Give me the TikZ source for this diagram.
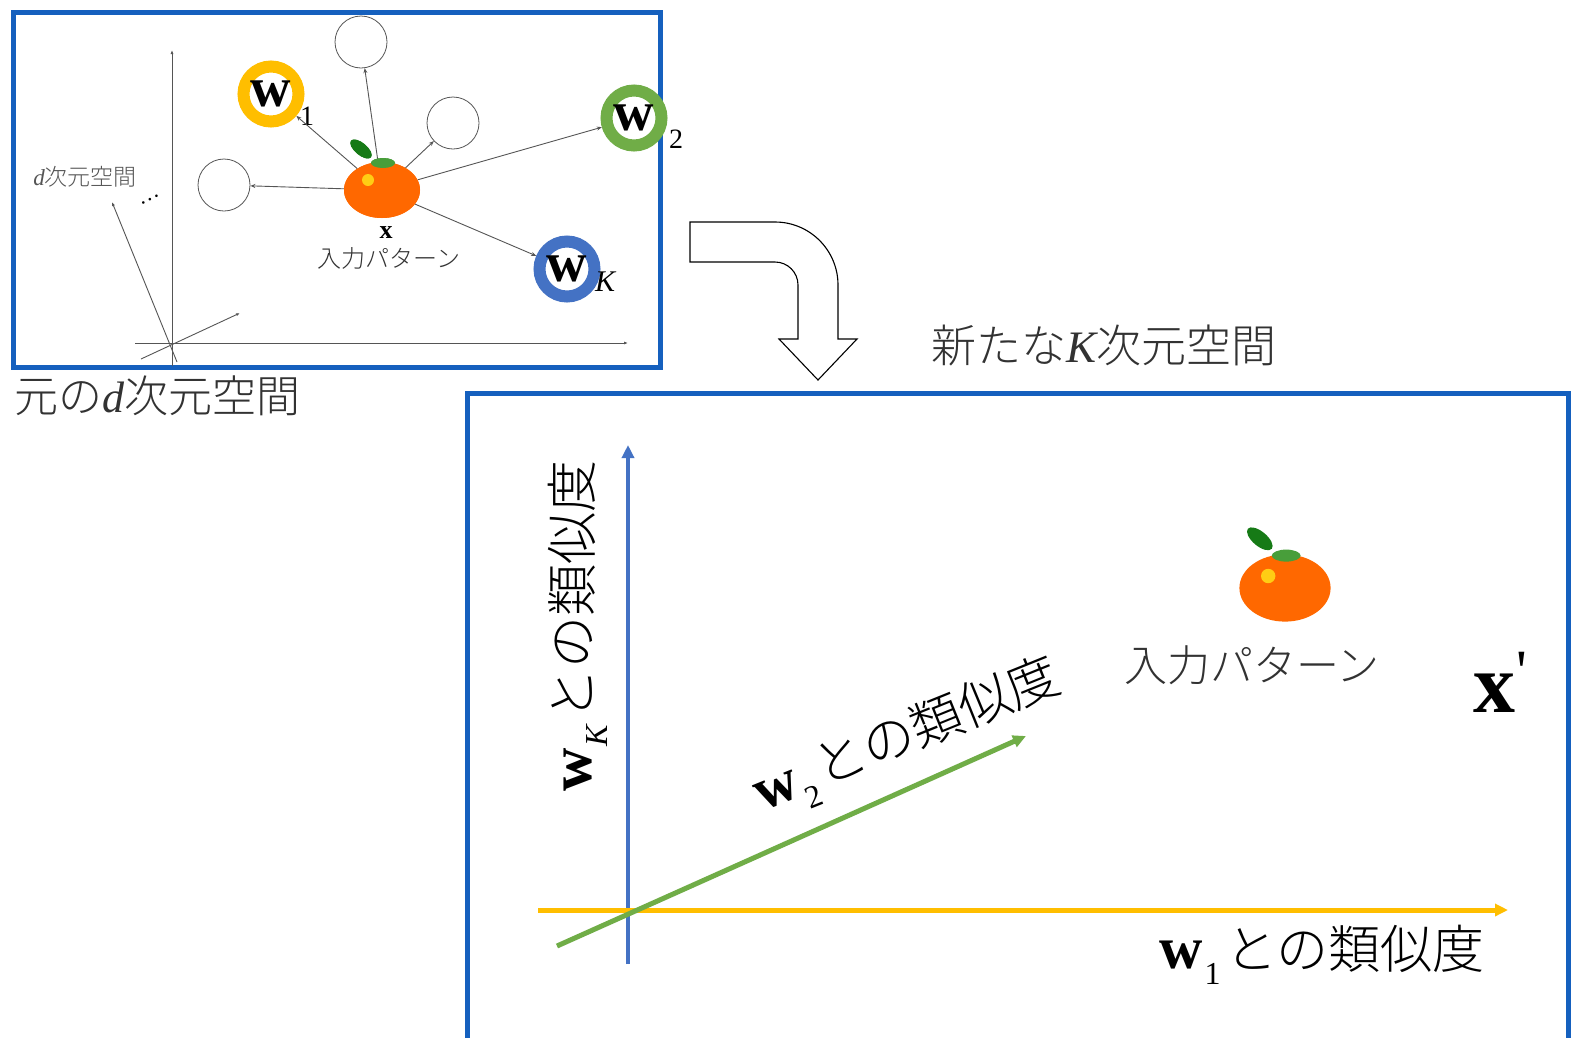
\documentclass[tikz,border=0pt]{standalone}
\usepackage{fontspec}
\usetikzlibrary{arrows.meta,shapes.geometric}
\newfontfamily\jpfont{Noto Sans CJK JP Light}
\newfontfamily\serif{Liberation Serif}
\newcommand\fs[1]{\fontsize{#1}{#1}\selectfont}
% bold vector w with a lowered index, then the Japanese caption
\newcommand\simlabel[2]{{\serif\bfseries\fs{60}w}\kern2pt{\serif\fs{32}\raisebox{-0.5em}{#1}}\hspace{0.45em}{\jpfont\fs{52}#2}}

\definecolor{frameblue}{RGB}{21,96,190}
\definecolor{ringyellow}{RGB}{255,190,0}
\definecolor{ringgreen}{RGB}{112,173,71}
\definecolor{ringblue}{RGB}{68,114,196}
\definecolor{mikanorange}{RGB}{255,104,0}
\definecolor{leafgreen}{RGB}{22,122,22}
\definecolor{calyxgreen}{RGB}{72,158,58}
\definecolor{shine}{RGB}{255,205,20}
\definecolor{ink}{RGB}{50,50,50}
\definecolor{thin}{RGB}{85,85,85}

\tikzset{
  frame/.style={draw=frameblue,line width=5pt},
  ring/.style={circle,draw=#1,line width=12pt,fill=white,minimum size=55pt,inner sep=0pt,
    font=\serif\bfseries\fs{56}},
  emptyc/.style={circle,draw=thin,line width=0.8pt,minimum size=52pt,inner sep=0pt},
  idx/.style={inner sep=0pt,font=\serif\fs{28}},
  thinarr/.style={draw=thin,line width=0.9pt,-{Stealth[length=5pt,width=4pt]}},
  axisthin/.style={draw=thin,line width=0.9pt},
  jp/.style={inner sep=0pt,text=ink,font=\jpfont},
  bigaxis/.style={line width=5pt,-{Triangle[length=13pt,width=12pt]}},
  mikan/.pic={
    \node[ellipse,fill=mikanorange,minimum width=#1*76pt,minimum height=#1*56pt,inner sep=0pt] (-body) at (0,0) {};
    \begin{scope}[scale=#1]
      \fill[calyxgreen] (1,-27) ellipse[x radius=12,y radius=5];
      \fill[leafgreen,rotate around={-40:(-21,-41)}] (-21,-41) ellipse[x radius=13,y radius=6];
      \fill[shine] (-14,-10) circle[radius=6];
    \end{scope}
  }
}

\begin{document}
\begin{tikzpicture}[x=1pt,y=-1pt]
\useasboundingbox[fill=white] (0,0) rectangle (1574,1037);

% ---------- original d-dimensional space ----------
\draw[frame] (13,12) rectangle (660,367);

\coordinate (ytop) at (172,50);
\coordinate (ybot) at (172,366);
\coordinate (xl) at (135,343);
\coordinate (xr) at (628,343);
\coordinate (dtip) at (112,202);
\coordinate (dfoot) at (177,362);
\coordinate (ztail) at (141,359);
\coordinate (ztip) at (240,313);
\draw[axisthin,-{Latex[length=4pt,width=3pt]}] (ybot) -- (ytop);
\draw[axisthin,-{Latex[length=4pt,width=3pt]}] (xl) -- (xr);
\draw[axisthin,-{Latex[length=4pt,width=3pt]}] (dfoot) -- (dtip);
\draw[axisthin,-{Latex[length=4pt,width=3pt]}] (ztail) -- (ztip);
\node[inner sep=0pt,rotate=27,font=\serif\fs{22}] (dots) at (150,200) {…};
\node[jp,text=thin,font=\jpfont\fs{23}] (dlab) at (85,177) {{\serif\itshape d}次元空間};

\node[emptyc] (c1) at (361,42) {};
\node[emptyc] (c2) at (453,123) {};
\node[emptyc] (c3) at (224,185) {};
\node[ring=ringyellow] (w1) at (271,94) {w};
\node[ring=ringgreen] (w2) at (634,118) {w};
\node[ring=ringblue] (wK) at (567,269) {w};
\node[idx] (w1i) at (307,116) {1};
\node[idx] (w2i) at (676,139) {2};
\node[idx,font=\serif\itshape\fs{30}] (wKi) at (605,282) {K};

\path (382,190) pic (xo) {mikan=1};
\foreach \t in {c1,c2,c3,w1,w2,wK}
  \draw[thinarr] (xo-body) -- (\t);
\path (382,190) pic (xo2) {mikan=1};
\node[inner sep=0pt,font=\serif\bfseries\fs{26}] (xlab) at (386,233) {x};
\node[jp,font=\jpfont\fs{24}] (inp1) at (389,258) {入力パターン};

\node[jp,font=\jpfont\fs{44}] (oldcap) at (157,396) {元の{\serif\itshape d}次元空間};

% ---------- bent transition arrow ----------
\draw[thin,line width=1.1pt,fill=white,line join=miter]
  (690,222) -- (775,222) arc[start angle=-90,end angle=0,radius=63]
  -- (838,339) -- (857,339) -- (818,380) -- (779,339) -- (798,339)
  -- (798,285) arc[start angle=0,end angle=-90,radius=23] -- (690,262) -- cycle;

\node[jp,font=\jpfont\fs{45}] (newcap) at (1104,346) {新たな{\serif\itshape K}次元空間};

% ---------- new K-dimensional space ----------
\draw[frame] (467,393) rectangle (1568,1070);

\coordinate (bvb) at (628,964);
\coordinate (bvt) at (628,445);
\coordinate (yhl) at (538,910);
\coordinate (yhr) at (1508,910);
\coordinate (gs) at (557,946);
\coordinate (ge) at (1026,736);
\draw[bigaxis,draw=ringblue,fill=ringblue,line width=4pt] (bvb) -- (bvt);
\draw[bigaxis,draw=ringyellow,fill=ringyellow] (yhl) -- (yhr);
\draw[bigaxis,draw=ringgreen,fill=ringgreen] (gs) -- (ge);

\node[inner sep=0pt,rotate=90] (simK) at (578,626) {\simlabel{\itshape K}{との類似度}};
\node[inner sep=0pt,rotate=22] (sim2) at (908,738) {\simlabel{2}{との類似度}};
\node[inner sep=0pt] (sim1) at (1322,955) {\simlabel{1}{との類似度}};

\path (1285,588) pic (xp) {mikan=1.2};
\node[jp,font=\jpfont\fs{43}] (inp2) at (1252,665) {入力パターン};
\node[inner sep=0pt,font=\serif\bfseries\fs{84}] (xprime) at (1500,682) {x\kern1pt\raisebox{0.25em}{\mdseries\fs{60}\textquotesingle}};
\end{tikzpicture}
\end{document}
